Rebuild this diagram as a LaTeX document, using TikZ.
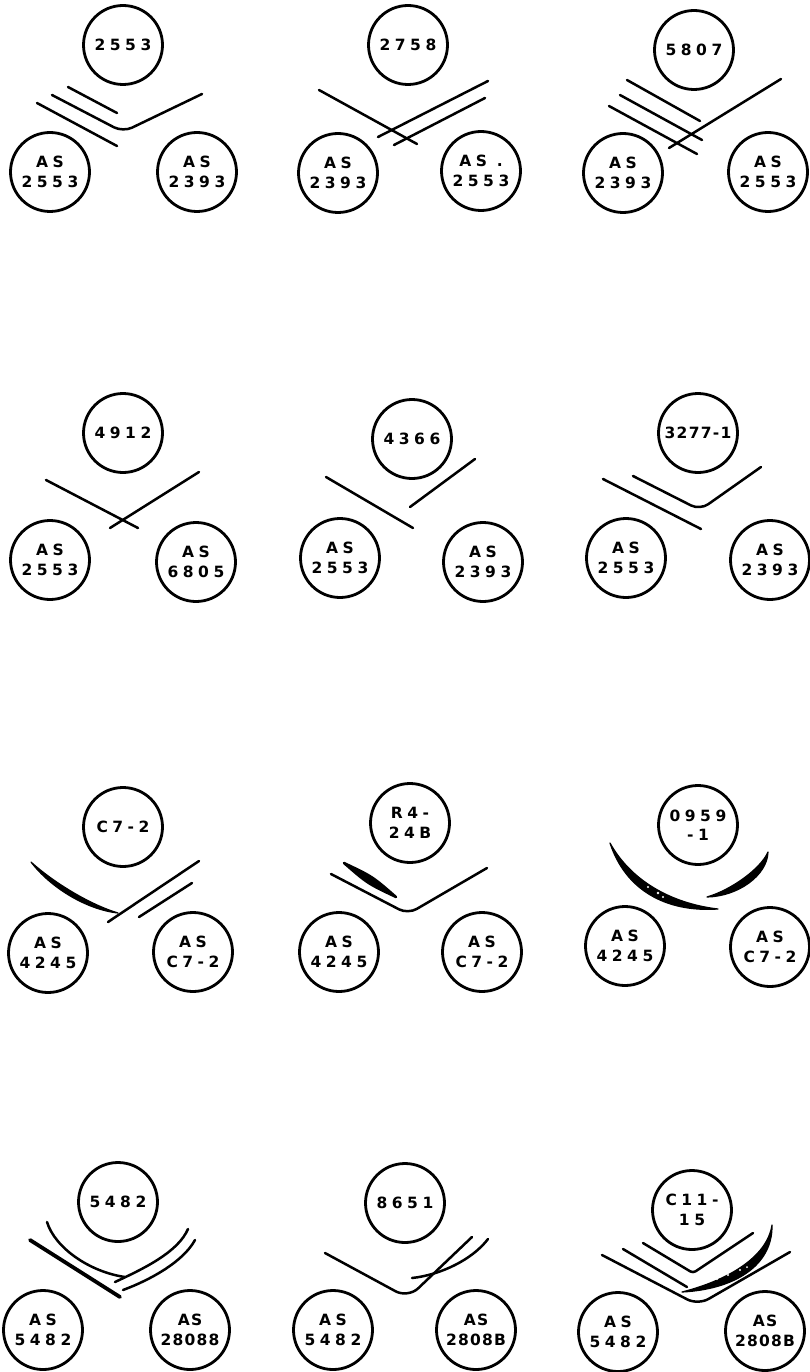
\documentclass[tikz,border=0pt]{standalone}
\usepackage{fontspec}
\setmainfont{DejaVu Sans}
\newfontfamily\strainfont{DejaVu Sans}[LetterSpace=29]
\tikzset{
  % Strain circle
  strain/.style={
    circle, draw=black, line width=2.8pt,
    minimum size=79pt, inner sep=0pt, align=center,
    font=\strainfont\bfseries\fontsize{15.5}{19.5}\selectfont
  },
  % Narrower spacing for long labels
  tight/.style={font=\strainfont\bfseries\fontsize{15.5}{19.5}\selectfont\addfontfeature{LetterSpace=8}},
  % Pairing bands
  band/.style={line width=2.5pt, line cap=round, line join=round},
  bandthick/.style={line width=3.8pt, line cap=round},
  lens/.style={fill=black, draw=black, line width=1.2pt, line join=round},
  speck/.style={fill=white, draw=none},
}

\begin{document}
\begin{tikzpicture}[x=1pt, y=-1pt]
  \useasboundingbox (0,0) rectangle (810,1372);

  % Row 1
  \node[strain] (t1) at (123,45) {2553};
  \node[strain] (l1) at (50,172) {AS\\2553};
  \node[strain] (r1) at (197,172) {AS\\2393};
  \draw[band] (68,87) -- (117,113);
  \draw[band, rounded corners=10pt] (52,95) -- (123,132) -- (202,94);
  \draw[band] (37,103) -- (117,146);

  \node[strain] (t2) at (408,45) {2758};
  \node[strain] (l2) at (338,173) {AS\\2393};
  \node[strain] (r2) at (481,171) {AS .\\2553};
  \draw[band] (319,90) -- (417,144);
  \draw[band] (488,81) -- (378,137);
  \draw[band] (485,98) -- (394,145);

  \node[strain] (t3) at (694,50) {5807};
  \node[strain] (l3) at (623,173) {AS\\2393};
  \node[strain] (r3) at (768,172) {AS\\2553};
  \draw[band] (627,80) -- (700,121);
  \draw[band] (620,95) -- (702,140);
  \draw[band] (609,106) -- (697,154);
  \draw[band] (781,79) -- (669,148);

  % Row 2
  \node[strain] (t4) at (123,433) {4912};
  \node[strain] (l4) at (50,560) {AS\\2553};
  \node[strain] (r4) at (196,562) {AS\\6805};
  \draw[band] (46,480) -- (138,528);
  \draw[band] (199,472) -- (110,528);

  \node[strain] (t5) at (412,439) {4366};
  \node[strain] (l5) at (340,558) {AS\\2553};
  \node[strain] (r5) at (483,562) {AS\\2393};
  \draw[band] (326,477) -- (413,528);
  \draw[band] (475,459) -- (410,507);

  \node[strain, tight] (t6) at (698,433) {3277-1};
  \node[strain] (l6) at (626,558) {AS\\2553};
  \node[strain] (r6) at (770,560) {AS\\2393};
  \draw[band] (603,479) -- (701,529);
  \draw[band, rounded corners=10pt] (633,476) -- (700,510) -- (761,467);

  % Row 3
  \node[strain] (t7) at (123,827) {C7-2};
  \node[strain] (l7) at (48,953) {AS\\4245};
  \node[strain] (r7) at (193,952) {AS\\C7-2};
  \draw[lens] (31,862) .. controls (53.5,882.4) and (89.5,904.4) .. (118,913)
    .. controls (86.5,909.6) and (50.5,887.6) .. cycle;
  \draw[band] (199,861) -- (108,922);
  \draw[band] (192,883) -- (139,917);

  \node[strain] (t8) at (410,823) {R4-\\24B};
  \node[strain] (l8) at (339,952) {AS\\4245};
  \node[strain] (r8) at (482,952) {AS\\C7-2};
  \draw[lens, line width=2.5pt, line cap=round] (344,863) .. controls (372.5,876.5) .. (396,897)
    .. controls (367.5,883.5) .. cycle;
  \draw[band, rounded corners=10pt] (331,874) -- (408,914) -- (487,868);

  \node[strain] (t9) at (698,825) {0959\\-1};
  \node[strain] (l9) at (625,946) {AS\\4245};
  \node[strain] (r9) at (770,947) {AS\\C7-2};
  \draw[lens] (610,843) .. controls (630.7,880.4) and (670.7,903.4) .. (718,909)
    .. controls (665.3,912.6) and (625.3,889.6) .. cycle;
  \fill[speck] (648,887) circle (1.2) (658,893) circle (1.3) (663,897) circle (1.1);
  \draw[lens] (768,852) .. controls (767.3,875.3) and (738.3,896.3) .. (707,897)
    .. controls (731.7,889.7) and (760.7,868.7) .. cycle;

  % Row 4
  \node[strain] (t10) at (118,1202) {5482};
  \node[strain] (l10) at (43,1330) {AS\\5482};
  \node[strain, tight] (r10) at (190,1330) {AS\\28088};
  \draw[band] (47,1222) .. controls (55,1248) and (90,1272) .. (125,1277);
  \draw[band] (115,1282) .. controls (145,1268) and (178,1252) .. (188,1229);
  \draw[bandthick] (30,1240) -- (120,1297);
  \draw[band] (195,1240) .. controls (183,1262) and (150,1280) .. (123,1290);

  \node[strain] (t11) at (405,1203) {8651};
  \node[strain] (l11) at (333,1330) {AS\\5482};
  \node[strain, tight] (r11) at (476,1330) {AS\\2808B};
  \draw[band, rounded corners=14pt] (325,1253) -- (408,1298) -- (472,1237);
  \draw[band] (488,1239) .. controls (472,1260) and (440,1275) .. (412,1278);

  \node[strain] (t12) at (692,1210) {C11-\\15};
  \node[strain] (l12) at (618,1332) {AS\\5482};
  \node[strain, tight] (r12) at (765,1331) {AS\\2808B};
  \draw[band, rounded corners=3pt] (643,1243) -- (693,1273) -- (753,1233);
  \draw[band] (623,1249) -- (687,1287);
  \draw[lens] (772,1225) .. controls (772.9,1266.5) and (732.9,1289.5) .. (682,1292)
    .. controls (727.1,1280.5) and (767.1,1257.5) .. cycle;
  \fill[speck] (717,1279) circle (1.1) (728,1275) circle (1.2) (740,1270) circle (1.1) (747,1267) circle (1);
  \draw[band, rounded corners=12pt] (602,1255) -- (698,1305) -- (790,1252);
\end{tikzpicture}
\end{document}
